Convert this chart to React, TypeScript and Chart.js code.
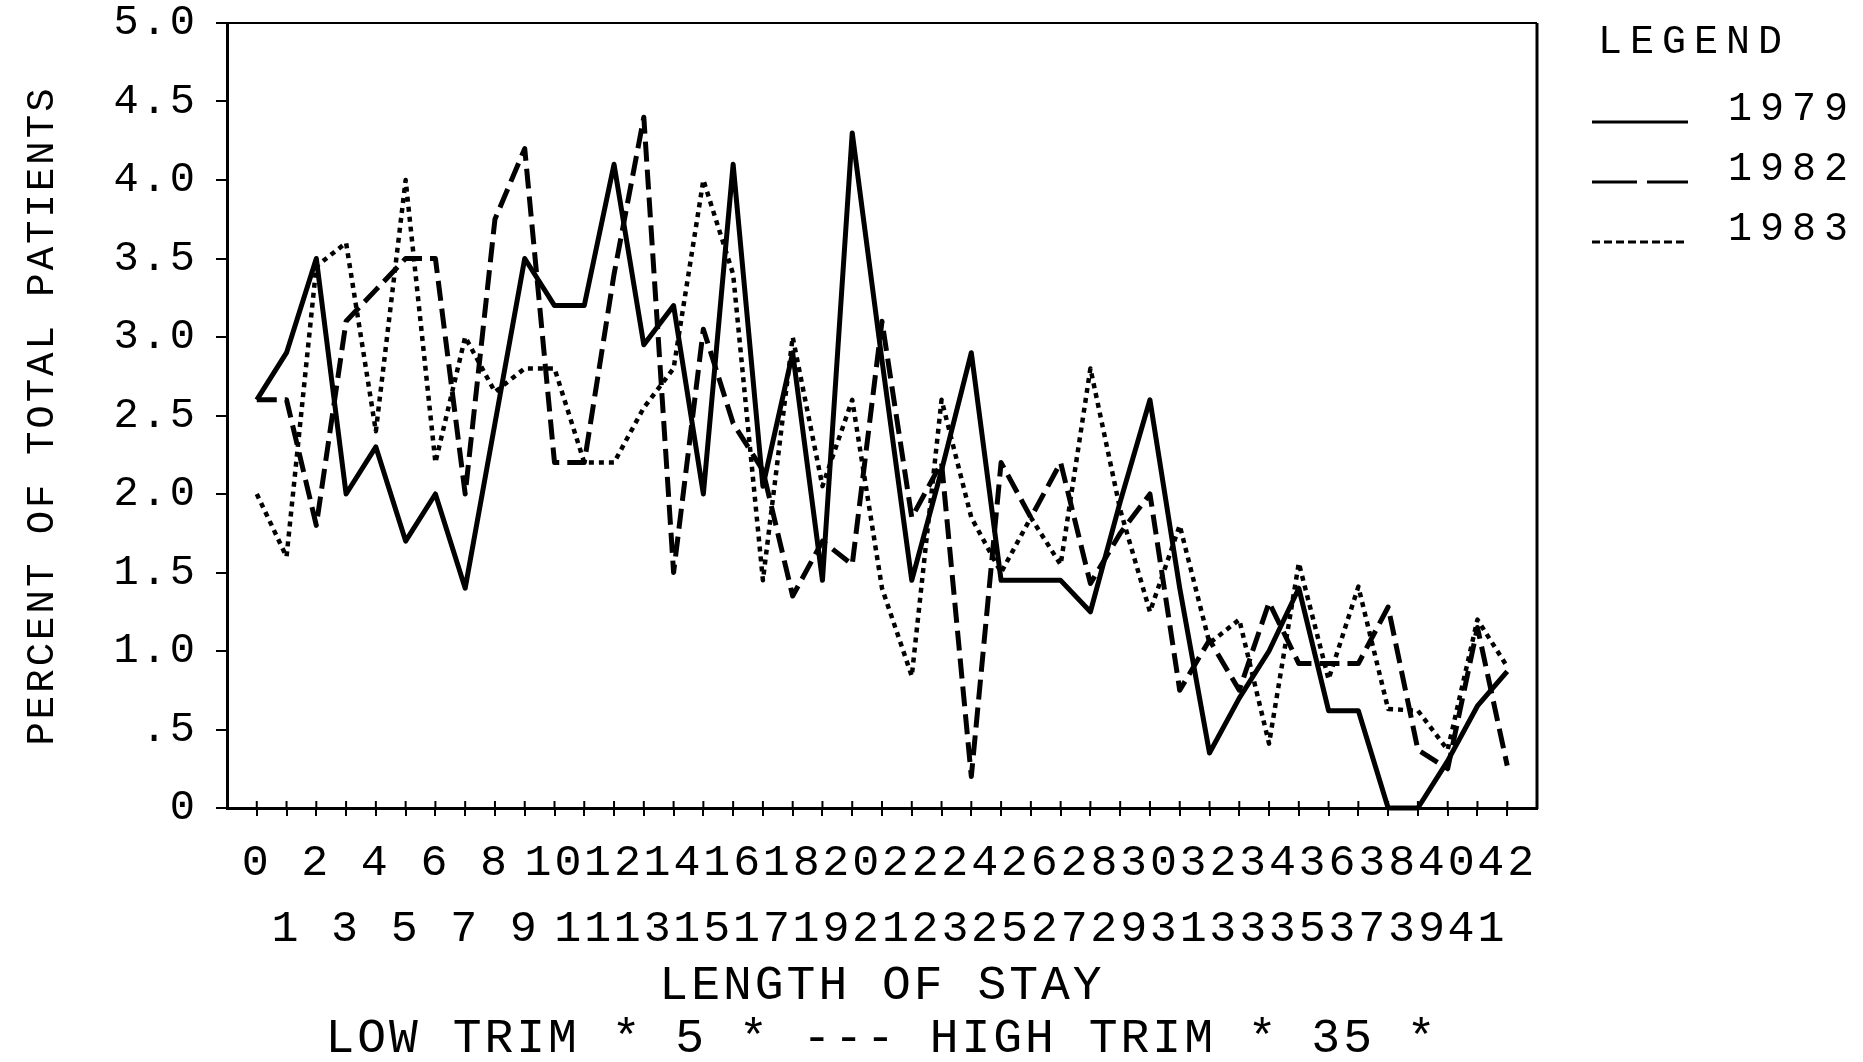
import React, { useEffect, useRef } from 'react';
import { Chart, registerables } from 'chart.js';

Chart.register(...registerables);

// ---- data ----
const lengthOfStay = [0, 1, 2, 3, 4, 5, 6, 7, 8, 9, 10, 11, 12, 13, 14, 15, 16, 17, 18, 19, 20, 21, 22, 23, 24, 25, 26, 27, 28, 29, 30, 31, 32, 33, 34, 35, 36, 37, 38, 39, 40, 41, 42];

const seriesLabels = ['1979', '1982', '1983'];

const values1979 = [2.6, 2.9, 3.5, 2.0, 2.3, 1.7, 2.0, 1.4, 2.45, 3.5, 3.2, 3.2, 4.1, 2.95, 3.2, 2.0, 4.1, 2.05, 2.9, 1.45, 4.3, 2.85, 1.45, 2.15, 2.9, 1.45, 1.45, 1.45, 1.25, 1.95, 2.6, 1.4, 0.35, 0.7, 1.0, 1.4, 0.62, 0.62, 0, 0, 0.3, 0.65, 0.87];

const values1982 = [2.6, 2.6, 1.8, 3.1, 3.3, 3.5, 3.5, 2.0, 3.75, 4.2, 2.2, 2.2, 3.4, 4.4, 1.5, 3.05, 2.45, 2.15, 1.35, 1.7, 1.55, 3.1, 1.85, 2.2, 0.2, 2.2, 1.85, 2.2, 1.43, 1.75, 2.0, 0.75, 1.07, 0.75, 1.31, 0.92, 0.92, 0.92, 1.28, 0.37, 0.25, 1.15, 0.27];

const values1983 = [2.0, 1.6, 3.45, 3.6, 2.4, 4.0, 2.2, 3.0, 2.65, 2.8, 2.8, 2.2, 2.2, 2.55, 2.8, 4.0, 3.4, 1.45, 3.0, 2.05, 2.6, 1.4, 0.84, 2.6, 1.85, 1.5, 1.85, 1.55, 2.8, 1.9, 1.25, 1.8, 1.05, 1.2, 0.41, 1.56, 0.82, 1.41, 0.63, 0.62, 0.37, 1.2, 0.9];

const yTickLabels = ['0', '.5', '1.0', '1.5', '2.0', '2.5', '3.0', '3.5', '4.0', '4.5', '5.0'];

const yAxisTitle = 'PERCENT OF TOTAL PATIENTS';
const xAxisTitle = 'LENGTH OF STAY';
const trimNote = 'LOW TRIM * 5 * --- HIGH TRIM * 35 *';
const legendTitle = 'LEGEND';

// ---- styling ----
const FONT = "'Liberation Mono', 'DejaVu Sans Mono', monospace";
const dashes: number[][] = [[], [20, 8], [5, 5]];
const legendDashes: number[][] = [[], [45, 10], [8, 4]];
const widths = [5, 5, 4.5];

const W = 1863;
const H = 1062;

const framePlugin = {
  id: 'plotterFrame',
  beforeDraw(chart: any) {
    (chart.ctx as any).letterSpacing = '3px';
  },
  afterDraw(chart: any) {
    const { ctx, chartArea: a, scales } = chart;
    const xs = scales.x;
    ctx.save();
    ctx.strokeStyle = '#000';
    ctx.lineCap = 'butt';
    // top and right border of the plot box
    ctx.lineWidth = 2;
    ctx.beginPath();
    ctx.moveTo(a.left - 11, a.top);
    ctx.lineTo(a.right, a.top);
    ctx.stroke();
    ctx.lineWidth = 3;
    ctx.beginPath();
    ctx.moveTo(a.right, a.top);
    ctx.lineTo(a.right, a.bottom + 1);
    ctx.stroke();
    // inner half of the x tick crosses
    ctx.lineWidth = 2;
    ctx.beginPath();
    lengthOfStay.forEach((v) => {
      const px = xs.getPixelForValue(v);
      ctx.moveTo(px, a.bottom - 7);
      ctx.lineTo(px, a.bottom);
    });
    ctx.stroke();

    // legend
    const lx = a.right + 55;
    (ctx as any).letterSpacing = '8px';
    ctx.fillStyle = '#000';
    ctx.textBaseline = 'middle';
    ctx.textAlign = 'left';
    ctx.font = `40px ${FONT}`;
    ctx.fillText(legendTitle, lx + 6, 42);
    chart.data.datasets.forEach((ds: any, i: number) => {
      const y = 122 + i * 60;
      ctx.save();
      ctx.lineWidth = 3;
      ctx.setLineDash(legendDashes[i]);
      ctx.beginPath();
      ctx.moveTo(lx, y);
      ctx.lineTo(lx + 96, y);
      ctx.stroke();
      ctx.restore();
      ctx.fillText(ds.label, lx + 136, y - 13);
    });
    ctx.restore();
  },
};

export default function App() {
  const ref = useRef<HTMLCanvasElement | null>(null);

  useEffect(() => {
    if (!ref.current) return;
    document.body.style.margin = '0';
    const series = [values1979, values1982, values1983];
    const chart = new Chart(ref.current, {
      type: 'line',
      data: {
        datasets: series.map((vals, i) => ({
          label: seriesLabels[i],
          data: vals.map((v, k) => ({ x: lengthOfStay[k], y: v })),
          borderColor: '#000',
          backgroundColor: '#000',
          borderWidth: widths[i],
          borderDash: dashes[i],
          borderCapStyle: 'butt',
          borderJoinStyle: 'round',
          pointRadius: 0,
          pointHoverRadius: 0,
          tension: 0,
          fill: false,
          clip: false,
        })),
      },
      options: {
        responsive: false,
        animation: false,
        devicePixelRatio: 1,
        events: [],
        layout: { padding: { top: 23, right: 326, bottom: 0, left: 0 } },
        plugins: {
          legend: { display: false },
          tooltip: { enabled: false },
          title: { display: false },
        },
        scales: {
          x: {
            type: 'linear',
            min: -1,
            max: 43,
            afterFit: (s: any) => {
              s.height = H - 808;
              s.paddingLeft = 0;
              s.paddingRight = 0;
            },
            border: { display: true, color: '#000', width: 3 },
            grid: {
              drawOnChartArea: false,
              drawTicks: true,
              tickLength: 8,
              lineWidth: 2,
              color: (c: any) =>
                c.tick && (c.tick.value < 0 || c.tick.value > 42) ? 'rgba(0,0,0,0)' : '#000',
            },
            ticks: {
              stepSize: 1,
              autoSkip: false,
              maxRotation: 0,
              minRotation: 0,
              padding: 14,
              color: '#000',
              font: { family: FONT, size: 45, lineHeight: 66 / 45 },
              callback: (value: any) => {
                const idx = lengthOfStay.indexOf(Number(value));
                if (idx < 0) return '';
                const label = String(lengthOfStay[idx]);
                return idx % 2 === 0 ? [label] : ['', label];
              },
            },
            title: {
              display: true,
              text: [xAxisTitle, trimNote],
              color: '#000',
              font: { family: FONT, size: 48, lineHeight: 53 / 48 },
              padding: { top: 0, bottom: -4 },
            },
          },
          y: {
            type: 'linear',
            min: 0,
            max: 5,
            afterFit: (s: any) => {
              s.width = 227;
              s.paddingTop = 0;
              s.paddingBottom = 0;
            },
            border: { display: true, color: '#000', width: 3 },
            grid: {
              drawOnChartArea: false,
              drawTicks: true,
              tickLength: 11,
              lineWidth: 2,
              color: '#000',
            },
            ticks: {
              stepSize: 0.5,
              padding: 18,
              color: '#000',
              font: { family: FONT, size: 42 },
              callback: (_v: any, index: number) => yTickLabels[index] ?? '',
            },
            title: {
              display: true,
              text: yAxisTitle,
              color: '#000',
              font: { family: FONT, size: 39, lineHeight: 1.2 },
              padding: { top: 19, bottom: 0 },
            },
          },
        },
      },
      plugins: [framePlugin],
    } as any);
    return () => {
      chart.destroy();
    };
  }, []);

  return (
    <div style={{ position: 'fixed', left: 0, top: 0, width: W, height: H, background: '#fff' }}>
      <canvas ref={ref} width={W} height={H} style={{ display: 'block', width: W, height: H }} />
    </div>
  );
}
